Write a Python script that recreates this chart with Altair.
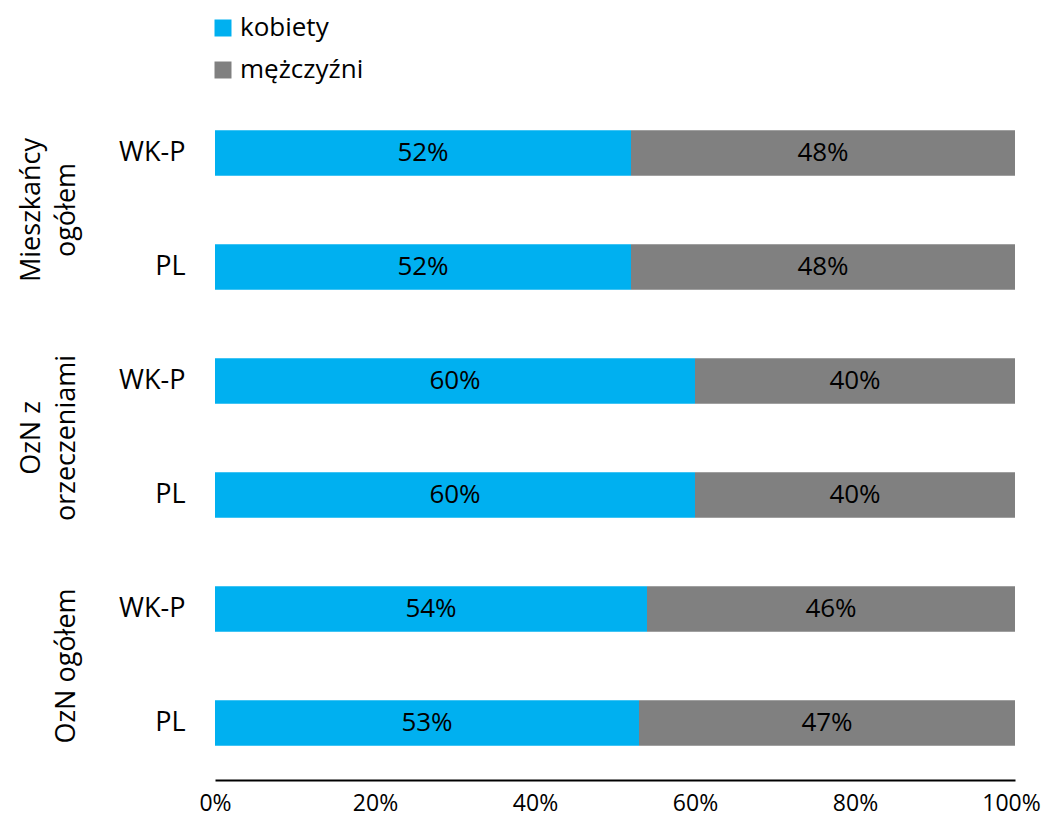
import altair as alt
import pandas as pd

groups = ["Mieszkańcy ogółem", "OzN z orzeczeniami", "OzN ogółem"]
group_labels = ["Mieszkańcy\nogółem", "OzN z\norzeczeniami", "\nOzN ogółem"]
regions = ["WK-P", "PL"]
series = ["kobiety", "mężczyźni"]
kobiety = [52, 52, 60, 60, 54, 53]
mezczyzni = [48, 48, 40, 40, 46, 47]
colors = ["#00B0F0", "#808080"]

rows = []
row_keys = []
i = 0
for g in groups:
    for r in regions:
        key = f"{g}|{r}"
        row_keys.append(key)
        rows.append({"row": key, "group": g, "series": series[0], "order": 0, "value": kobiety[i]})
        rows.append({"row": key, "group": g, "series": series[1], "order": 1, "value": mezczyzni[i]})
        i += 1
df = pd.DataFrame(rows)
gdf = pd.DataFrame({"group": groups, "label": group_labels})

FONT = "Open Sans"

yenc = alt.Y("row:N", sort=row_keys, title=None,
             scale=alt.Scale(paddingInner=0.6, paddingOuter=0.3),
             axis=alt.Axis(labelExpr="split(datum.label, '|')[1]", ticks=False, domain=False,
                           labelPadding=30, labelFontSize=27, labelFont=FONT, labelColor="#000000"))

base = alt.Chart(df).transform_stack(
    stack="value", groupby=["row"], as_=["x0", "x1"], sort=[alt.SortField("order")]
).transform_calculate(mid="(datum.x0 + datum.x1) / 2", lab="datum.value + '%'")

bars = base.mark_bar().encode(
    y=yenc,
    x=alt.X("x0:Q", title=None, scale=alt.Scale(domain=[0, 100], nice=False),
            axis=alt.Axis(values=[0, 20, 40, 60, 80, 100], labelExpr="datum.value + '%'",
                          grid=False, ticks=False, domainColor="#000000", domainWidth=2,
                          labelFlush=False, labelOverlap=False,
                          labelOffset={"condition": {"test": "datum.value == 100", "value": -4}, "value": 0},
                          labelPadding=12, labelFontSize=23, labelFont=FONT, labelColor="#000000")),
    x2="x1:Q",
    color=alt.Color("series:N", sort=series, title=None,
                    scale=alt.Scale(domain=series, range=colors),
                    legend=alt.Legend(orient="none", legendX=-5, legendY=-81, symbolType="square",
                                      symbolSize=289, symbolStrokeWidth=0, labelFontSize=26,
                                      labelFont=FONT, labelColor="#000000", labelOffset=4,
                                      rowPadding=16, padding=0)),
)

texts = base.mark_text(fontSize=26, font=FONT, color="#000000", baseline="middle").encode(
    y=alt.Y("row:N", sort=row_keys),
    x=alt.X("mid:Q"),
    text="lab:N",
)

main = alt.layer(bars, texts)

glabels = alt.Chart(gdf).mark_text(
    angle=270, fontSize=27, font=FONT, color="#000000", lineBreak="\n",
    align="center", baseline="bottom", lineHeight=35
).encode(
    y=alt.Y("group:N", sort=groups, title=None,
            scale=alt.Scale(paddingInner=0, paddingOuter=0), axis=None),
    x=alt.value(-169),
    text="label:N",
)

chart = alt.layer(main, glabels).resolve_scale(y="independent").properties(
    width=800, height=684,
    autosize=alt.AutoSizeParams(type="none"),
    padding={"left": 207, "top": 88, "right": 26, "bottom": 37},
).configure_view(stroke=None)

chart.save("out.html", embed_options={"renderer": "svg", "actions": False})
